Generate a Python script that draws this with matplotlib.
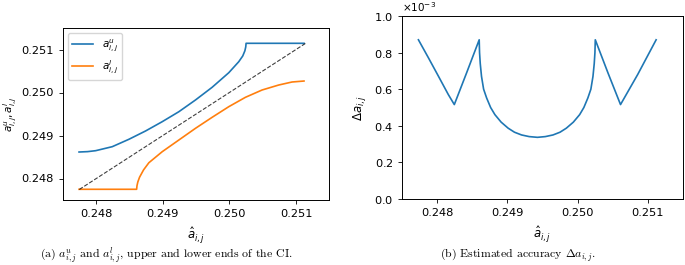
import matplotlib
matplotlib.use("Agg")
import matplotlib.pyplot as plt

# ── Data ──────────────────────────────────────────────────────────────────────
# (a) upper end of the CI
upper_x = [0.247741, 0.247870, 0.247991, 0.248240, 0.248490, 0.248740, 0.248990,
           0.249240, 0.249490, 0.249740, 0.249990, 0.250140, 0.250200, 0.250232,
           0.250245, 0.250250, 0.251120]
upper_y = [0.248616, 0.248625, 0.248647, 0.248740, 0.248912, 0.249105, 0.249321,
           0.249553, 0.249826, 0.250121, 0.250460, 0.250716, 0.250850, 0.250970,
           0.251060, 0.251144, 0.251144]

# (a) lower end of the CI
lower_x = [0.247741, 0.248606, 0.248611, 0.248624, 0.248650, 0.248710, 0.248790,
           0.248990, 0.249240, 0.249490, 0.249740, 0.249990, 0.250240, 0.250490,
           0.250740, 0.250940, 0.251120]
lower_y = [0.247749, 0.247749, 0.247830, 0.247920, 0.248030, 0.248200, 0.248367,
           0.248623, 0.248895, 0.249167, 0.249423, 0.249670, 0.249888, 0.250058,
           0.250174, 0.250244, 0.250267]

# identity reference line
diag = [0.247745, 0.251140]

# (b) estimated accuracy (x1e-3)
acc_x = [0.247730, 0.247872, 0.248014, 0.248156, 0.248242, 0.248418, 0.248597,
         0.248602, 0.248612, 0.248630, 0.248660, 0.248703, 0.248760, 0.248821,
         0.248910, 0.249010, 0.249100, 0.249201, 0.249310, 0.249428, 0.249540,
         0.249650, 0.249750, 0.249840, 0.249940, 0.250030, 0.250090, 0.250147,
         0.250190, 0.250220, 0.250238, 0.250248, 0.250253, 0.250433, 0.250613,
         0.250859, 0.251121]
acc_y = [0.870, 0.772, 0.672, 0.571, 0.516, 0.690, 0.870,
         0.800, 0.740, 0.670, 0.600, 0.552, 0.500, 0.461,
         0.420, 0.387, 0.365, 0.350, 0.341, 0.337, 0.341,
         0.350, 0.365, 0.387, 0.420, 0.461, 0.500, 0.552,
         0.600, 0.670, 0.740, 0.800, 0.870, 0.690, 0.516,
         0.681, 0.870]

XLIM = (0.2475, 0.2515)
XTICKS = [0.248, 0.249, 0.250, 0.251]

fig = plt.figure(figsize=(6.85, 2.65), dpi=100)

# ── (a) upper / lower ends ───────────────────────────────────────────────────
ax1 = fig.add_axes([63 / 685, 65 / 265, 266.3 / 685, 172 / 265])
ax1.plot(upper_x, upper_y, color="#1f77b4", lw=1.2, label=r"$a^u_{i,j}$")
ax1.plot(lower_x, lower_y, color="#ff7f0e", lw=1.2, label=r"$a^l_{i,j}$")
ax1.plot(diag, diag, color="k", lw=0.8, ls="--", alpha=0.75)
ax1.set_xlim(*XLIM)
ax1.set_ylim(*XLIM)
ax1.set_xticks(XTICKS)
ax1.set_yticks(XTICKS)
ax1.tick_params(labelsize=8.2, length=3, width=0.6)
ax1.set_xlabel(r"$\hat{a}_{i,j}$", fontsize=8.5)
ax1.set_ylabel(r"$a^u_{i,j}, a^l_{i,j}$", fontsize=7.5)
ax1.yaxis.set_label_coords(-0.165, 0.5)
ax1.legend(loc="upper left", fontsize=7.5)

# ── (b) estimated accuracy ───────────────────────────────────────────────────
ax2 = fig.add_axes([402.3 / 685, 66 / 265, 280.4 / 685, 183 / 265])
ax2.plot(acc_x, [v * 1e-3 for v in acc_y], color="#1f77b4", lw=1.2)
ax2.set_xlim(*XLIM)
ax2.set_ylim(0, 1.0e-3)
ax2.set_xticks(XTICKS)
ax2.ticklabel_format(style="sci", axis="y", scilimits=(0, 0), useMathText=True)
ax2.ticklabel_format(style="plain", axis="x", useOffset=False)
ax2.yaxis.get_offset_text().set_fontsize(7.5)
ax2.tick_params(labelsize=8.2, length=3, width=0.6)
ax2.set_xlabel(r"$\hat{a}_{i,j}$", fontsize=8.5)
ax2.set_ylabel(r"$\Delta a_{i,j}$", fontsize=8.5)
ax2.yaxis.set_label_coords(-0.122, 0.5)

for ax in (ax1, ax2):
    for sp in ax.spines.values():
        sp.set_linewidth(0.7)

# ── captions ─────────────────────────────────────────────────────────────────
fig.text(166 / 685, 1 - 255 / 265,
         r"(a) $a^u_{i,j}$ and $a^l_{i,j}$, upper and lower ends of the CI.",
         ha="center", va="center", fontsize=8.5, family="cmr10", math_fontfamily="cm")
fig.text(518 / 685, 1 - 255 / 265,
         r"(b) Estimated accuracy $\Delta a_{i,j}$.",
         ha="center", va="center", fontsize=8.5, family="cmr10", math_fontfamily="cm")

fig.savefig("out.png", dpi=100)
